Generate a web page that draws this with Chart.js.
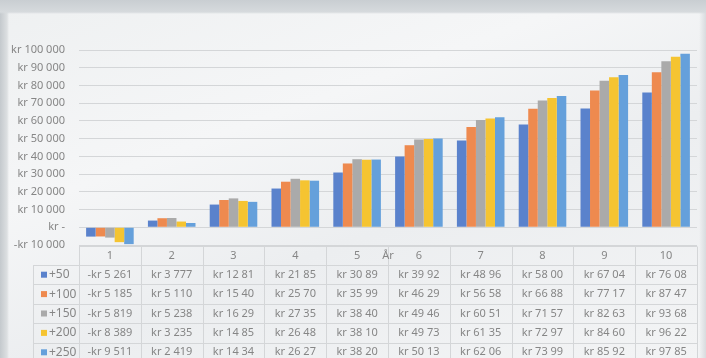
<!DOCTYPE html>
<html lang="nb">
<head>
<meta charset="utf-8">
<script src="https://cdn.jsdelivr.net/npm/chart.js@4/dist/chart.umd.min.js"></script>
<style>
    html, body {
        margin: 0;
        padding: 0;
    }
    body {
        width: 706px;
        height: 358px;
        overflow: hidden;
        background:
            linear-gradient(to bottom, #c9ced2 0px, #d6dadd 12px, rgba(0,0,0,0) 14px),
            linear-gradient(to right, #c4c9cd 0px, #dcdfe1 7px, rgba(0,0,0,0) 9px),
            linear-gradient(to left, #d8dbde 0px, rgba(0,0,0,0) 7px),
            linear-gradient(160deg, #eef0f1 0%, #f5f6f7 35%, #eceef0 60%, #f3f4f5 100%);
    }
    #wrap {
        position: relative;
        width: 706px;
        height: 358px;
    }
</style>
</head>
<body>

<div id="wrap">
    <canvas id="chart" width="706" height="358"></canvas>
</div>

<script>
    // År 1-10, saldo i kroner for hvert påslag
    const years = ["1", "2", "3", "4", "5", "6", "7", "8", "9", "10"];
    const seriesNames = ["+50", "+100", "+150", "+200", "+250"];
    const s50  = [-5261, 3777, 12810, 21850, 30890, 39920, 48960, 58000, 67040, 76080];
    const s100 = [-5185, 5110, 15400, 25700, 35990, 46290, 56580, 66880, 77170, 87470];
    const s150 = [-5819, 5238, 16290, 27350, 38400, 49460, 60510, 71570, 82630, 93680];
    const s200 = [-8389, 3235, 14850, 26480, 38100, 49730, 61350, 72970, 84600, 96220];
    const s250 = [-9511, 2419, 14340, 26270, 38200, 50130, 62060, 73990, 85920, 97850];
    const seriesValues = [s50, s100, s150, s200, s250];
    const colors = ["#5a82cc", "#ee8a4f", "#aaaaaa", "#f5c431", "#65a0db"];

    const FONT = "'Noto Sans', 'Open Sans', sans-serif";
    const TEXT = "#868686";
    const LINE = "#d4d6d8";

    function kr(v) {
        if (v === 0) return "kr -";
        const s = Math.abs(v).toString().replace(/\B(?=(\d{3})+(?!\d))/g, " ");
        return (v < 0 ? "-kr " : "kr ") + s;
    }

    // the table cells are too narrow for five-digit amounts: the last digit is cut off
    function cellText(v) {
        const s = kr(v);
        return (v > 0 && s.length > 8) ? s.slice(0, 8) : s;
    }

    // data table under the plot, with the x axis title sitting in the header row
    const dataTable = {
        id: "dataTable",
        afterDraw(chart) {
            const ctx = chart.ctx;
            const x = chart.scales.x;
            const step = x.getPixelForValue(1) - x.getPixelForValue(0);
            const left = x.getPixelForValue(0) - step / 2;
            const right = x.getPixelForValue(years.length - 1) + step / 2;
            const top = chart.chartArea.bottom + 1.5;
            const headH = 18.5;
            const rowH = 19.4;
            const labelLeft = 33;
            const rowTop = r => top + headH + r * rowH;

            ctx.save();
            ctx.strokeStyle = LINE;
            ctx.lineWidth = 1;
            ctx.beginPath();
            // horizontal rules
            ctx.moveTo(left, top);
            ctx.lineTo(right, top);
            for (let r = 0; r <= seriesNames.length; r++) {
                const y = Math.round(rowTop(r)) + 0.5;
                ctx.moveTo(labelLeft, y);
                ctx.lineTo(right, y);
            }
            // vertical rules
            const bottom = rowTop(seriesNames.length);
            ctx.moveTo(labelLeft + 0.5, rowTop(0));
            ctx.lineTo(labelLeft + 0.5, bottom);
            for (let c = 0; c <= years.length; c++) {
                const xx = Math.round(left + c * step) + 0.5;
                ctx.moveTo(xx, top);
                ctx.lineTo(xx, bottom);
            }
            ctx.stroke();

            ctx.font = "11px " + FONT;
            ctx.fillStyle = TEXT;
            ctx.textAlign = "center";
            ctx.textBaseline = "middle";
            years.forEach((yr, i) => {
                ctx.fillText(yr, x.getPixelForValue(i), top + headH / 2);
            });
            seriesValues.forEach((vals, r) => {
                const cy = rowTop(r) + rowH / 2;
                vals.forEach((v, i) => {
                    ctx.fillText(cellText(v), x.getPixelForValue(i), cy);
                });
            });

            // series keys in the first column
            ctx.textAlign = "left";
            ctx.font = "12px " + FONT;
            seriesNames.forEach((name, r) => {
                const cy = rowTop(r) + rowH / 2;
                ctx.fillStyle = colors[r];
                ctx.fillRect(41, cy - 3, 6, 6);
                ctx.fillStyle = TEXT;
                ctx.fillText(name, 49, cy);
            });

            // axis title
            ctx.font = "11px " + FONT;
            ctx.textAlign = "center";
            ctx.fillText("År", 388, top + headH / 2);
            ctx.restore();
        }
    };

    new Chart(document.getElementById("chart"), {
        type: "bar",
        data: {
            labels: years,
            datasets: seriesNames.map((name, i) => ({
                label: name,
                data: seriesValues[i],
                backgroundColor: colors[i],
                borderWidth: 0
            }))
        },
        options: {
            responsive: false,
            animation: false,
            layout: {
                padding: { top: 50, right: 9, bottom: 113, left: 0 }
            },
            plugins: {
                legend: { display: false },
                tooltip: { enabled: false }
            },
            datasets: {
                bar: {
                    categoryPercentage: 0.77,
                    barPercentage: 1
                }
            },
            scales: {
                x: {
                    display: false
                },
                y: {
                    min: -10000,
                    max: 100000,
                    afterFit(scale) {
                        scale.width = 79;
                    },
                    ticks: {
                        stepSize: 10000,
                        padding: 14,
                        color: TEXT,
                        font: { family: FONT, size: 11 },
                        callback: v => kr(v)
                    },
                    grid: {
                        color: LINE,
                        drawTicks: false
                    },
                    border: { display: false }
                }
            }
        },
        plugins: [dataTable]
    });
</script>

</body>
</html>
